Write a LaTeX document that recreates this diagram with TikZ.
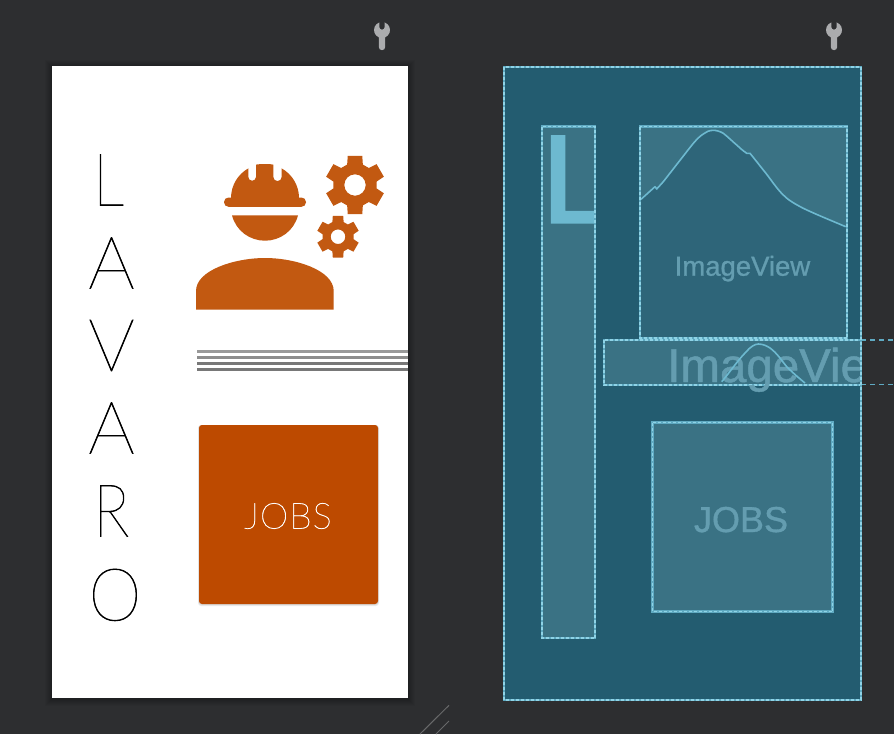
\documentclass[tikz,border=0pt]{standalone}
\usepackage{fontspec}
\setmainfont{Liberation Sans}
\newfontfamily\thinfont[AutoFakeBold=0.8]{Lato Hairline}
\newfontfamily\jobsfont[AutoFakeBold=1.2,LetterSpace=3]{Lato Hairline}
\newfontfamily\heavyL[AutoFakeBold=2.5]{Liberation Sans}
\newfontfamily\labelfont[AutoFakeBold=1]{Liberation Sans}
\definecolor{bgdark}{HTML}{2D2E30}
\definecolor{blueprint}{HTML}{235C70}
\definecolor{boxfill}{HTML}{3A7284}
\definecolor{imgfill}{HTML}{2E6579}
\definecolor{edgeblue}{HTML}{5FAAC2}
\definecolor{edgelight}{HTML}{8FD3E6}
\definecolor{lettblue}{HTML}{6DB9D0}
\definecolor{labelblue}{HTML}{649DB0}
\definecolor{rust}{HTML}{C25911}
\definecolor{jobrust}{HTML}{BD4A00}
\definecolor{wrenchgray}{HTML}{ABACAE}
\tikzset{
  x=1pt,y=-1pt,
  bpline/.style={draw=edgeblue,line width=#1,postaction={draw=edgelight,line width=1.2pt,dash pattern=on 3pt off 2pt}},
  bpline/.default=2.6pt,
  thinletter/.style={font=\thinfont\bfseries\fontsize{73}{73}\selectfont,text=black,inner sep=0pt,anchor=base},
  lbl/.style={text=labelblue,inner sep=0pt,anchor=base west},
  ext/.style={draw=edgeblue,line width=1.2pt,dash pattern=on 5pt off 4pt},
  curveblue/.style={draw=lettblue,line width=1.6pt,line join=round},
  resize/.style={draw=white!28!bgdark,line width=1pt},
}
\newcommand{\gearicon}[4]{% cx cy outer hole
  \fill[rust,even odd rule]
    ({#1+#3*cos(76)},{#2-#3*sin(76)})
    \foreach \a in {90,150,...,390} {
      -- ({#1+#3*cos(\a-14)},{#2-#3*sin(\a-14)})
      -- ({#1+#3*cos(\a+14)},{#2-#3*sin(\a+14)})
      -- ({#1+0.73*#3*cos(\a+21)},{#2-0.73*#3*sin(\a+21)})
      -- ({#1+0.73*#3*cos(\a+39)},{#2-0.73*#3*sin(\a+39)})
    } -- cycle
    (#1,#2) circle[radius=#4];
}
\newcommand{\wrenchicon}[1]{%
  \fill[wrenchgray]
    ({#1-2.7},22.47) -- ({#1-2.7},27) arc[start angle=180,end angle=0,radius=2.7]
    -- ({#1+2.7},22.47)
    arc[start angle=289.7,end angle=426.4,radius=8]
    -- ({#1+3.2},47) arc[start angle=0,end angle=180,radius=3.2]
    -- ({#1-3.2},37.33)
    arc[start angle=113.6,end angle=250.3,radius=8] -- cycle;
}
\begin{document}
\begin{tikzpicture}
\useasboundingbox (0,0) rectangle (894,734);
\fill[bgdark] (0,0) rectangle (894,734);
% wrenches
\wrenchicon{382}
\wrenchicon{834}
% resize grip
\draw[resize] (420,734) -- (449,705.3);
\draw[resize] (436,734) -- (449,721);
% phone shadow
\foreach \i in {1,...,7}
  \fill[black,opacity=0.03] ({52-\i},{66-\i+1}) rectangle ({408+\i},{698+\i+1});
% white phone
\fill[white] (52,66) rectangle (408,698);
% LAVARO
\node[thinletter,xscale=0.85,transform shape] (l1) at (108.5,205.5) {L};
\node[thinletter] (l2) at (111.5,288.5) {A};
\node[thinletter] (l3) at (111.5,371) {V};
\node[thinletter] (l4) at (111.5,453.5) {A};
\node[thinletter,xscale=0.83,transform shape] (l5) at (111.3,536.5) {R};
\node[thinletter,xscale=0.92,transform shape] (l6) at (115,620.5) {O};
% worker
\fill[rust] (231,198) arc[start angle=180,end angle=240.6,radius=34]
   -- (248.3,176.9) arc[start angle=180,end angle=0,radius=3.85] -- (256,164.6)
   .. controls (260,163.8) and (270,163.8) .. (273.3,164.6)
   -- (273.3,176.9) arc[start angle=180,end angle=0,radius=4.2] -- (281.7,168.4)
   arc[start angle=299.4,end angle=360,radius=34] -- cycle;
\fill[rust,rounded corners=4.5pt] (224,197.5) rectangle (306,206.8);
\fill[rust] (232,215.3) -- (298,215.3) .. controls (294,231) and (280,240.7) .. (265,240.7)
   .. controls (250,240.7) and (236,231) .. (232,215.3) -- cycle;
\fill[rust] (196,309.7) -- (196,291) .. controls (196,270) and (235,258) .. (265,258)
   .. controls (295,258) and (333.7,270) .. (333.7,291) -- (333.7,309.7) -- cycle;
\gearicon{355}{185}{30}{10.7}
\gearicon{338}{236.7}{21.5}{7.3}
% rules
\fill[black!40] (197,350) rectangle (408,353.2);
\fill[black!45] (197,356) rectangle (408,359);
\fill[black!53] (197,362) rectangle (408,365);
\fill[black!53] (197,368) rectangle (408,371);
% JOBS button
\foreach \i in {1,2}
  \fill[black,opacity=0.08,rounded corners=3pt] ({199-\i/2},{425}) rectangle ({378+\i/2},{604+\i});
\fill[jobrust,rounded corners=3pt] (199,425) rectangle (378,604);
\node[inner sep=0pt,text=white,font=\jobsfont\bfseries\fontsize{36}{36}\selectfont] (jobsa) at (288,516) {JOBS};
% blueprint panel
\fill[blueprint] (504,67) rectangle (861,700);
% L box
\fill[boxfill] (542,126.5) rectangle (595,638);
\begin{scope}
  \clip (542,126.5) rectangle (595,638);
  \node[inner sep=0pt,anchor=base west,text=lettblue,font=\heavyL\bfseries\fontsize{124}{124}\selectfont] (lb) at (542,222) {L};
\end{scope}
\draw[bpline] (542,126.5) rectangle (595,638);
% top image box
\fill[imgfill] (640,126.5) rectangle (847,338);
\fill[boxfill] (640,126.5) -- (847,126.5) -- (847,227.2) -- (845.7,226.7)
  .. controls (830,220) and (815,214) .. (803.3,208.3)
  .. controls (795,204) and (788,200) .. (783.3,195)
  .. controls (776,188) and (770,178) .. (763.3,170)
  -- (750,153.3) -- (746.7,153.3)
  .. controls (742,150) and (740,148) .. (736.7,145)
  .. controls (732,141) and (728,137) .. (723.3,133.3)
  .. controls (720,131.3) and (716,130.3) .. (713.3,130.3)
  .. controls (709,130.3) and (706,132) .. (703.3,134)
  .. controls (697,138) and (692,145) .. (686.7,151.7)
  -- (663.3,181.7) -- (656.7,189) -- (655,186.7) -- (641,199.3) -- (640,200) -- cycle;
\draw[curveblue] (641,199.3) -- (655,186.7) -- (656.7,189) -- (663.3,181.7) -- (686.7,151.7)
  .. controls (692,145) and (697,138) .. (703.3,134)
  .. controls (706,132) and (709,130.3) .. (713.3,130.3)
  .. controls (716,130.3) and (720,131.3) .. (723.3,133.3)
  .. controls (728,137) and (732,141) .. (736.7,145)
  .. controls (740,148) and (742,150) .. (746.7,153.3)
  -- (750,153.3) -- (763.3,170)
  .. controls (770,178) and (776,188) .. (783.3,195)
  .. controls (788,200) and (795,204) .. (803.3,208.3)
  .. controls (815,214) and (830,220) .. (845.7,226.7);
\draw[bpline] (640,126.5) rectangle (847,338);
\node[lbl,font=\labelfont\bfseries\fontsize{27.5}{27.5}\selectfont] (iv1) at (674.5,275.7) {ImageView};
% bar
\fill[boxfill] (604,340) rectangle (861,385);
\draw[bpline] (604,340) rectangle (861,385);
\begin{scope}
  \clip (604,338) rectangle (860,400);
  \node[lbl,font=\labelfont\bfseries\fontsize{47.5}{47.5}\selectfont] (iv2) at (667,382) {ImageView};
  \draw[curveblue] (721.7,381.7) .. controls (730,372) and (738,360) .. (746,352)
     .. controls (750,347) and (755,344) .. (758.3,344)
     .. controls (763,344) and (767,346) .. (770,348)
     .. controls (777,353) and (782,361) .. (786.7,366.7)
     .. controls (793,373) and (800,379) .. (805,383);
\end{scope}
\coordinate (exa) at (861,340);
\coordinate (exb) at (861,384.5);
\draw[ext] (exa) -- (894,340);
\draw[ext] (exb) -- (894,384.5);
% JOBS box
\fill[boxfill] (652.5,422.5) rectangle (832.5,611.5);
\draw[bpline=3.4pt] (652.5,422.5) rectangle (832.5,611.5);
\node[inner sep=0pt,text=labelblue,anchor=base,font=\labelfont\bfseries\fontsize{36}{36}\selectfont] (jobsb) at (741,532) {JOBS};
% outer panel edge
\draw[bpline] (504,67) rectangle (861,700);
\end{tikzpicture}
\end{document}
